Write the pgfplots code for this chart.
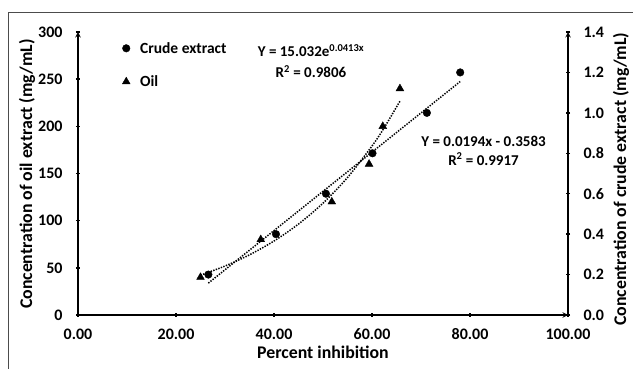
\documentclass[border=0pt]{standalone}
\usepackage{pgfplots}
\pgfplotsset{compat=1.18}
\usepackage{fontspec}
\setmainfont{Carlito}
\begin{document}
\begin{tikzpicture}
\useasboundingbox (0,0) rectangle (633bp,369bp);
\draw[black!70, line width=0.9bp] (8bp,0) -- (8bp,357bp) -- (633bp,357bp);
\pgfplotsset{
  common/.style={
    at={(78bp,54bp)}, anchor=south west,
    scale only axis, width=490bp, height=283bp,
    xmin=0, xmax=100,
    tick align=inside, major tick length=4bp,
    axis line style={-, line width=1.4bp},
    every tick/.style={black, line width=1.4bp},
    /pgf/number format/assume math mode=true,
    tick label style={font=\fontsize{16bp}{18bp}\selectfont\bfseries},
  },
  dotline/.style={black, line width=1.5bp, dash pattern=on 1.4bp off 1.3bp},
}
\begin{axis}[common,
  axis x line=bottom, axis y line=left,
  ymin=0, ymax=300, ytick={0,50,100,150,200,250,300},
  xtick={0,20,40,60,80,100},
  xticklabel style={/pgf/number format/.cd, fixed, fixed zerofill, precision=2, /tikz/.cd, yshift=-8bp},
  yticklabel style={xshift=-10bp},
  xlabel={Percent inhibition},
  ylabel={Concentration of oil extract (mg/mL)},
  xlabel style={at={(axis description cs:0.5,-0.131)}, anchor=center, font=\fontsize{17.8bp}{20bp}\selectfont\bfseries},
  ylabel style={at={(axis description cs:-0.104,0.498)}, anchor=center, font=\fontsize{17.8bp}{20bp}\selectfont\bfseries},
]
\addplot[only marks, mark=triangle*, mark size=4.5bp, black] coordinates {(25.0,40) (37.3,80) (51.8,120) (59.4,160) (62.2,200) (65.7,240)};
\addplot[dotline, smooth] coordinates {(25,42.21) (30,51.90) (35,63.80) (40,78.43) (45,96.42) (50,118.53) (55,145.72) (60,179.14) (62.5,198.6) (65.7,226.68)};
\node[font=\fontsize{15bp}{21bp}\selectfont\bfseries, align=center] at (axis cs:47.55,268.8) {Y = 15.032e\textsuperscript{0.0413x}\\R\textsuperscript{2} = 0.9806};
\node[font=\fontsize{15bp}{19bp}\selectfont\bfseries, align=center] at (axis cs:82.76,174.4) {Y = 0.0194x - 0.3583\\R\textsuperscript{2} = 0.9917};
\end{axis}
\begin{axis}[common,
  axis y line=right, axis x line=none,
  ymin=0, ymax=1.4, ytick={0,0.2,0.4,0.6,0.8,1.0,1.2,1.4},
  yticklabel style={/pgf/number format/.cd, fixed, fixed zerofill, precision=1, /tikz/.cd, xshift=10bp},
  ylabel={Concentration of crude extract (mg/mL)},
  ylabel style={at={(axis description cs:1.108,0.48)}, anchor=center, font=\fontsize{17.8bp}{20bp}\selectfont\bfseries},
  legend style={draw=none, fill=none, at={(axis description cs:0.084,0.979)}, anchor=north west, font=\fontsize{15.5bp}{18bp}\selectfont\bfseries, row sep=17bp, /tikz/every odd column/.append style={column sep=8bp}},
  legend cell align=left,
]
\addplot[only marks, mark=*, mark size=3.8bp, black] coordinates {(26.6,0.2) (40.4,0.4) (50.6,0.6) (60.1,0.8) (71.2,1.0) (78.0,1.2)};
\addlegendentry{Crude extract}
\addplot[dotline, forget plot] coordinates {(26.6,0.1577) (78.0,1.1549)};
\addlegendimage{only marks, mark=triangle*, mark size=4.5bp, black}
\addlegendentry{Oil}
\end{axis}
\end{tikzpicture}
\end{document}
